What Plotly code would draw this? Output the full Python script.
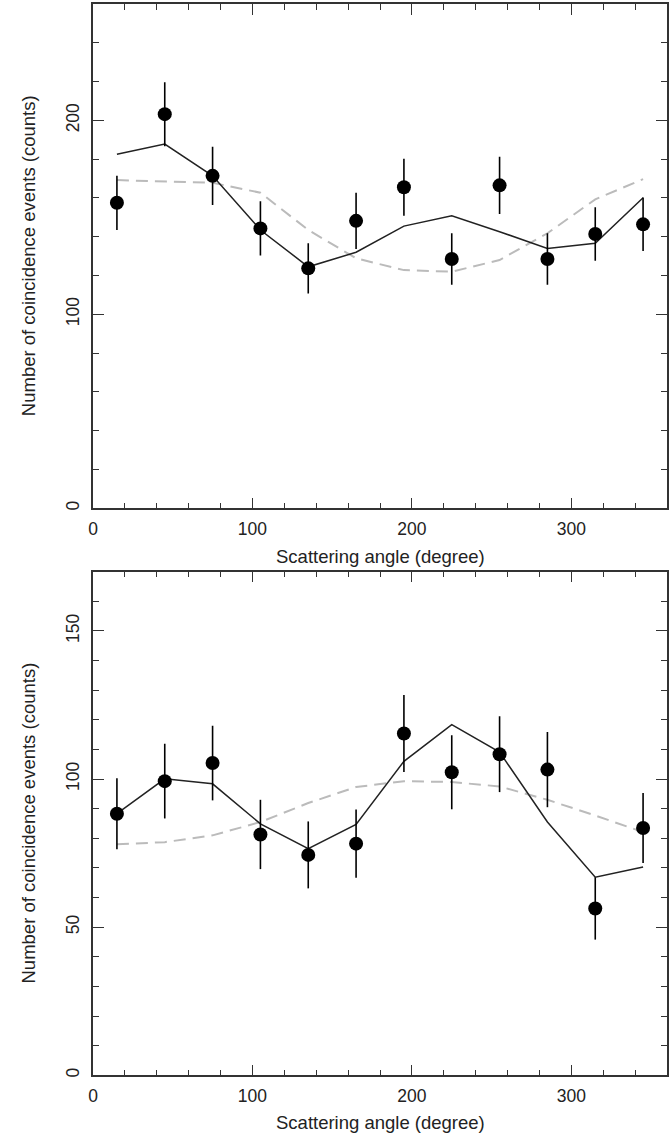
import plotly.graph_objects as go

# ---- data ----
angles = [15, 45, 75, 105, 135, 165, 195, 225, 255, 285, 315, 345]

top_counts = [157.5, 203.2, 171.4, 144.3, 123.7, 148.2, 165.5, 128.5, 166.5, 128.5, 141.4, 146.4]
top_err = [14, 16.5, 15, 14, 13, 14.5, 14.7, 13.3, 14.8, 13.3, 13.8, 13.8]
top_model = [182.5, 187.8, 171.4, 143.5, 124.5, 132, 145.5, 150.8, 142.6, 134, 136.6, 160.1]
top_fit = [169.2, 168.4, 167.8, 162.7, 143.5, 128.9, 122.8, 122, 128, 141.8, 159.3, 169.7]

bot_counts = [88.3, 99.3, 105.4, 81.3, 74.4, 78.2, 115.4, 102.3, 108.4, 103.2, 56.3, 83.5]
bot_err = [12, 12.6, 12.6, 11.7, 11.3, 11.5, 13, 12.5, 12.8, 12.7, 10.5, 11.8]
bot_model = [88.3, 100.1, 98.4, 84.9, 76.5, 84.7, 106, 118.4, 109.1, 85.5, 66.9, 70.3]
bot_fit = [78, 78.7, 81, 85.5, 91.9, 97.3, 99.3, 99, 97.5, 93, 87.7, 82.1]

x_title = "Scattering angle (degree)"
y_title = "Number of coincidence events (counts)"

W, H = 671, 1134
FONT = "Liberation Sans, Arial, Helvetica, sans-serif"
TXT = "#222222"
AX = "#333333"

fig = go.Figure()


def add_panel(xa, ya, counts, err, model, fit):
    fig.add_trace(go.Scatter(x=angles, y=fit, mode="lines", xaxis=xa, yaxis=ya,
                             line=dict(color="#bbbbbb", width=2, dash="12px,7px"),
                             showlegend=False, hoverinfo="skip"))
    fig.add_trace(go.Scatter(x=angles, y=model, mode="lines", xaxis=xa, yaxis=ya,
                             line=dict(color="#222222", width=1.5),
                             showlegend=False, hoverinfo="skip"))
    fig.add_trace(go.Scatter(x=angles, y=counts, mode="markers", xaxis=xa, yaxis=ya,
                             marker=dict(color="black", size=14, symbol="circle"),
                             error_y=dict(type="data", array=err, visible=True,
                                          color="black", thickness=1.6, width=0),
                             showlegend=False))


add_panel("x", "y", top_counts, top_err, top_model, top_fit)
add_panel("x2", "y2", bot_counts, bot_err, bot_model, bot_fit)

xdom = [93 / W, 667 / W]
top_dom = [1 - 508.3 / H, 1 - 4 / H]
bot_dom = [1 - 1075.3 / H, 1 - 571.7 / H]


def xaxis(domain_anchor):
    return dict(domain=xdom, anchor=domain_anchor, range=[0, 360],
                tickvals=[0, 100, 200, 300], ticks="inside", ticklen=11, tickwidth=1.3,
                tickcolor=AX, showline=True, linecolor=AX, linewidth=1.5,
                mirror="ticks", showgrid=False, zeroline=False,
                ticklabelstandoff=4,
                tickfont=dict(family=FONT, size=17.5, color=TXT),
                minor=dict(dtick=20, tick0=0, ticks="inside", ticklen=6, tickwidth=1.2,
                           tickcolor=AX, showgrid=False),
                automargin=False, fixedrange=True)


def yaxis(domain, rng, major, minor, anchor):
    return dict(domain=domain, anchor=anchor, range=rng, tickvals=major,
                ticks="inside", ticklen=11, tickwidth=1.3, tickcolor=AX,
                showline=True, linecolor=AX, linewidth=1.5, mirror="ticks",
                showgrid=False, zeroline=False, tickangle=-90,
                ticklabelstandoff=5,
                tickfont=dict(family=FONT, size=17.5, color=TXT),
                minor=dict(dtick=minor, tick0=0, ticks="inside", ticklen=6, tickwidth=1.2,
                           tickcolor=AX, showgrid=False),
                automargin=False, fixedrange=True)


fig.update_layout(
    width=W, height=H,
    margin=dict(l=0, r=0, t=0, b=0),
    paper_bgcolor="white", plot_bgcolor="white",
    xaxis=xaxis("y"),
    yaxis=yaxis(top_dom, [0, 260], [0, 100, 200], 20, "x"),
    xaxis2=xaxis("y2"),
    yaxis2=yaxis(bot_dom, [0, 170], [0, 50, 100, 150], 10, "x2"),
    font=dict(family=FONT, color=TXT),
)

ann_font = dict(family=FONT, size=18.5, color=TXT)
xc = (93 + 667) / 2 / W
for ty, yc in [(556, (4 + 508.3) / 2), (1122, (571.7 + 1075.3) / 2)]:
    fig.add_annotation(text=x_title, x=xc, y=1 - ty / H, xref="paper", yref="paper",
                       showarrow=False, font=ann_font, xanchor="center", yanchor="middle")
    fig.add_annotation(text=y_title, x=28 / W, y=1 - yc / H, xref="paper", yref="paper",
                       showarrow=False, font=ann_font, textangle=-90,
                       xanchor="center", yanchor="middle")

fig.write_html("out.html")
